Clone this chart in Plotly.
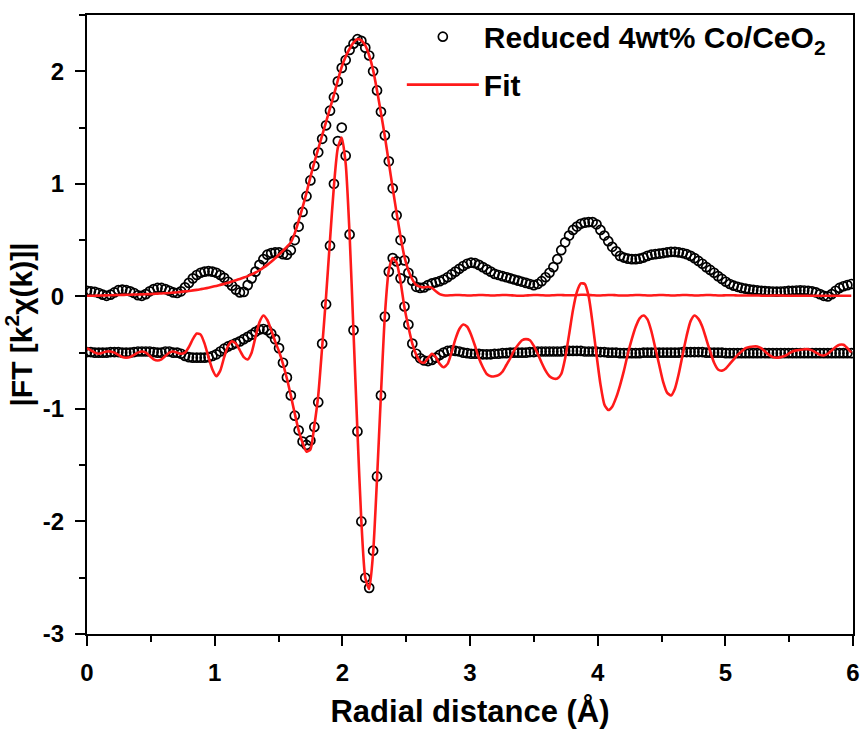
import plotly.graph_objects as go

R_STEP = 0.0307
N_PTS = 196
R = [round(i * R_STEP, 4) for i in range(N_PTS)]

X_TICKS = [0, 1, 2, 3, 4, 5, 6]
X_TICK_LABELS = ["0", "1", "2", "3", "4", "5", "6"]
Y_TICKS = [-3, -2, -1, 0, 1, 2]
Y_TICK_LABELS = ["-3", "-2", "-1", "0", "1", "2"]

# |FT| magnitude of the data
MAG_DATA = [
    0.050, 0.045, 0.040, 0.030, 0.015, 0.005, 0.015, 0.035, 0.055, 0.060,
    0.055, 0.045, 0.030, 0.010, 0.005, 0.020, 0.045, 0.065, 0.075, 0.075,
    0.065, 0.050, 0.035, 0.030, 0.045, 0.080, 0.120, 0.160, 0.190, 0.210,
    0.220, 0.225, 0.220, 0.210, 0.190, 0.165, 0.130, 0.095, 0.060, 0.035,
    0.040, 0.100, 0.160, 0.220, 0.280, 0.330, 0.370, 0.385, 0.390, 0.390,
    0.375, 0.370, 0.410, 0.500, 0.620, 0.750, 0.890, 1.030, 1.160, 1.280,
    1.400, 1.520, 1.650, 1.770, 1.910, 2.030, 2.100, 2.190, 2.245, 2.285,
    2.270, 2.210, 2.140, 2.000, 1.830, 1.640, 1.430, 1.200, 0.960, 0.720,
    0.500, 0.320, 0.210, 0.140, 0.085, 0.075, 0.080, 0.100, 0.115, 0.125,
    0.135, 0.150, 0.170, 0.195, 0.220, 0.245, 0.270, 0.290, 0.300, 0.295,
    0.280, 0.260, 0.240, 0.220, 0.200, 0.190, 0.180, 0.170, 0.160, 0.150,
    0.140, 0.130, 0.120, 0.110, 0.100, 0.110, 0.135, 0.170, 0.210, 0.260,
    0.330, 0.410, 0.480, 0.540, 0.590, 0.620, 0.645, 0.655, 0.660, 0.660,
    0.640, 0.590, 0.540, 0.490, 0.440, 0.400, 0.360, 0.345, 0.335, 0.330,
    0.330, 0.335, 0.345, 0.360, 0.370, 0.375, 0.380, 0.385, 0.390, 0.395,
    0.395, 0.390, 0.385, 0.375, 0.360, 0.340, 0.315, 0.290, 0.260, 0.235,
    0.210, 0.180, 0.155, 0.130, 0.110, 0.095, 0.085, 0.075, 0.068, 0.062,
    0.057, 0.053, 0.050, 0.047, 0.045, 0.043, 0.042, 0.043, 0.045, 0.048,
    0.050, 0.052, 0.053, 0.052, 0.050, 0.045, 0.035, 0.020, 0.005, 0.000,
    0.020, 0.050, 0.075, 0.090, 0.100, 0.110,
]

# Imaginary part of the data (shifted by -0.5)
IM_DATA = [
    -0.495, -0.495, -0.500, -0.500, -0.500, -0.500, -0.495, -0.495, -0.495, -0.500,
    -0.500, -0.500, -0.495, -0.490, -0.490, -0.490, -0.490, -0.495, -0.500, -0.500,
    -0.490, -0.490, -0.500, -0.500, -0.510, -0.530, -0.540, -0.545, -0.545, -0.545,
    -0.545, -0.540, -0.530, -0.515, -0.490, -0.465, -0.445, -0.430, -0.415, -0.400,
    -0.380, -0.360, -0.340, -0.315, -0.295, -0.290, -0.300, -0.330, -0.380, -0.460,
    -0.590, -0.720, -0.880, -1.060, -1.190, -1.290, -1.320, -1.280, -1.160, -0.940,
    -0.420, -0.070, 0.450, 1.000, 1.380, 1.500, 1.250, 0.550, -0.300, -1.200,
    -2.000, -2.500, -2.590, -2.260, -1.600, -0.880, -0.180, 0.220, 0.340, 0.310,
    0.160, -0.090, -0.250, -0.420, -0.510, -0.550, -0.570, -0.575, -0.565, -0.545,
    -0.520, -0.500, -0.485, -0.480, -0.485, -0.490, -0.500, -0.505, -0.510, -0.510,
    -0.510, -0.515, -0.515, -0.515, -0.510, -0.510, -0.505, -0.505, -0.500, -0.500,
    -0.500, -0.500, -0.500, -0.495, -0.495, -0.490, -0.490, -0.490, -0.490, -0.490,
    -0.490, -0.490, -0.485, -0.485, -0.485, -0.485, -0.485, -0.490, -0.490, -0.490,
    -0.490, -0.495, -0.495, -0.500, -0.500, -0.500, -0.505, -0.505, -0.505, -0.505,
    -0.505, -0.505, -0.500, -0.500, -0.500, -0.500, -0.500, -0.500, -0.500, -0.500,
    -0.500, -0.500, -0.495, -0.495, -0.495, -0.495, -0.495, -0.495, -0.500, -0.500,
    -0.500, -0.500, -0.500, -0.505, -0.505, -0.505, -0.505, -0.505, -0.505, -0.505,
    -0.505, -0.505, -0.505, -0.505, -0.505, -0.505, -0.505, -0.505, -0.505, -0.505,
    -0.505, -0.505, -0.505, -0.505, -0.505, -0.505, -0.505, -0.505, -0.505, -0.505,
    -0.505, -0.505, -0.505, -0.505, -0.505, -0.505,
]

# Fit: magnitude
MAG_FIT = [
    0.005, 0.005, 0.006, 0.007, 0.008, 0.009, 0.010, 0.011, 0.012, 0.013,
    0.014, 0.015, 0.016, 0.017, 0.018, 0.019, 0.020, 0.022, 0.024, 0.026,
    0.028, 0.030, 0.033, 0.036, 0.040, 0.044, 0.048, 0.053, 0.058, 0.064,
    0.070, 0.077, 0.085, 0.093, 0.102, 0.111, 0.121, 0.132, 0.143, 0.155,
    0.167, 0.180, 0.195, 0.212, 0.232, 0.255, 0.280, 0.308, 0.338, 0.372,
    0.405, 0.440, 0.480, 0.560, 0.670, 0.790, 0.920, 1.060, 1.190, 1.310,
    1.430, 1.550, 1.670, 1.790, 1.920, 2.040, 2.130, 2.200, 2.255, 2.285,
    2.275, 2.230, 2.140, 2.010, 1.830, 1.630, 1.420, 1.190, 0.960, 0.740,
    0.530, 0.350, 0.230, 0.150, 0.100, 0.085, 0.080, 0.085, 0.075, 0.045,
    0.020, 0.010, 0.008, 0.010, 0.012, 0.012, 0.010, 0.008, 0.008, 0.010,
    0.012, 0.012, 0.010, 0.008, 0.008, 0.010, 0.012, 0.012, 0.010, 0.008,
    0.006, 0.006, 0.008, 0.010, 0.012, 0.012, 0.010, 0.008, 0.008, 0.010,
    0.012, 0.012, 0.010, 0.010, 0.010, 0.012, 0.014, 0.014, 0.012, 0.010,
    0.008, 0.008, 0.010, 0.012, 0.012, 0.010, 0.008, 0.008, 0.008, 0.010,
    0.012, 0.012, 0.010, 0.008, 0.008, 0.010, 0.012, 0.012, 0.010, 0.008,
    0.008, 0.010, 0.012, 0.012, 0.010, 0.008, 0.008, 0.010, 0.012, 0.012,
    0.010, 0.008, 0.008, 0.010, 0.010, 0.010, 0.008, 0.008, 0.008, 0.008,
    0.008, 0.008, 0.006, 0.006, 0.006, 0.008, 0.008, 0.008, 0.006, 0.006,
    0.006, 0.006, 0.006, 0.006, 0.006, 0.006, 0.006, 0.006, 0.006, 0.006,
    0.006, 0.006, 0.006, 0.006, 0.006, 0.006,
]

# Fit: imaginary part (shifted by -0.5)
IM_FIT = [
    -0.460, -0.480, -0.500, -0.510, -0.500, -0.490, -0.490, -0.500, -0.520, -0.540,
    -0.545, -0.540, -0.520, -0.500, -0.490, -0.500, -0.530, -0.560, -0.570, -0.560,
    -0.530, -0.500, -0.490, -0.500, -0.510, -0.500, -0.450, -0.380, -0.330, -0.340,
    -0.420, -0.540, -0.650, -0.710, -0.660, -0.540, -0.440, -0.400, -0.420, -0.480,
    -0.540, -0.560, -0.500, -0.360, -0.230, -0.170, -0.210, -0.300, -0.400, -0.490,
    -0.600, -0.730, -0.880, -1.040, -1.190, -1.300, -1.380, -1.360, -1.150, -0.880,
    -0.450, 0.000, 0.500, 0.980, 1.320, 1.410, 1.180, 0.550, -0.320, -1.200,
    -2.000, -2.500, -2.600, -2.280, -1.620, -0.870, -0.170, 0.230, 0.340, 0.300,
    0.130, -0.100, -0.270, -0.420, -0.520, -0.580, -0.590, -0.550, -0.510, -0.540,
    -0.600, -0.630, -0.600, -0.500, -0.380, -0.290, -0.250, -0.270, -0.340, -0.440,
    -0.550, -0.630, -0.690, -0.710, -0.710, -0.700, -0.670, -0.610, -0.550, -0.480,
    -0.430, -0.390, -0.380, -0.390, -0.440, -0.510, -0.590, -0.660, -0.710, -0.730,
    -0.730, -0.690, -0.550, -0.340, -0.120, 0.040, 0.115, 0.110, 0.000, -0.240,
    -0.520, -0.780, -0.960, -1.010, -0.980, -0.900, -0.790, -0.660, -0.510, -0.380,
    -0.270, -0.195, -0.170, -0.205, -0.310, -0.460, -0.610, -0.760, -0.855, -0.880,
    -0.820, -0.685, -0.515, -0.350, -0.220, -0.170, -0.200, -0.270, -0.380, -0.490,
    -0.590, -0.650, -0.660, -0.640, -0.600, -0.560, -0.520, -0.490, -0.460, -0.450,
    -0.445, -0.445, -0.460, -0.490, -0.520, -0.540, -0.545, -0.540, -0.530, -0.510,
    -0.490, -0.480, -0.475, -0.470, -0.470, -0.480, -0.500, -0.520, -0.525, -0.510,
    -0.480, -0.450, -0.430, -0.430, -0.460, -0.500,
]

DATA_NAME = "Reduced 4wt% Co/CeO<sub>2</sub>"
FIT_NAME = "Fit"

n = min(len(R), len(MAG_DATA), len(IM_DATA), len(MAG_FIT), len(IM_FIT))

marker_style = dict(symbol="circle-open", size=9, color="black", line=dict(width=1.7, color="black"))
fit_line = dict(color="#ff1a1a", width=2.6, shape="spline", smoothing=0.6)

fig = go.Figure()
fig.add_trace(go.Scatter(x=R[:n], y=MAG_DATA[:n], mode="markers", marker=marker_style,
                         name=DATA_NAME, legendgroup="data", showlegend=True))
fig.add_trace(go.Scatter(x=R[:n], y=IM_DATA[:n], mode="markers", marker=marker_style,
                         name=DATA_NAME, legendgroup="data", showlegend=False))
fig.add_trace(go.Scatter(x=R[:n], y=MAG_FIT[:n], mode="lines", line=fit_line,
                         name=FIT_NAME, legendgroup="fit", showlegend=True))
fig.add_trace(go.Scatter(x=R[:n], y=IM_FIT[:n], mode="lines", line=fit_line,
                         name=FIT_NAME, legendgroup="fit", showlegend=False))

FONT = "Liberation Sans, Arial, Helvetica, sans-serif"
axis_common = dict(
    showgrid=False, zeroline=False, showline=True, linecolor="black", linewidth=2,
    mirror=True, ticks="outside", ticklen=10, tickwidth=2, tickcolor="black",
    tickfont=dict(family=FONT, size=24, color="black", weight="bold"),
    ticklabelstandoff=6, automargin=False,
)
minor_common = dict(dtick=0.5, ticks="outside", ticklen=6, tickwidth=2, tickcolor="black", showgrid=False)

fig.update_layout(
    width=863, height=731,
    margin=dict(l=87, r=10, t=15, b=97, autoexpand=False),
    paper_bgcolor="white", plot_bgcolor="white",
    font=dict(family=FONT, color="black"),
    xaxis=dict(range=[0, 6], tickmode="array", tickvals=X_TICKS, ticktext=X_TICK_LABELS,
               minor=minor_common,
               title=dict(text="Radial distance (Å)", font=dict(family=FONT, size=31, weight="bold"), standoff=16),
               **axis_common),
    yaxis=dict(range=[-3, 2.5], tickmode="array", tickvals=Y_TICKS, ticktext=Y_TICK_LABELS,
               minor=minor_common,
               title=dict(text="|FT [k<sup>2</sup>χ(k)]|", font=dict(family=FONT, size=30, weight="bold"), standoff=4),
               **axis_common),
    legend=dict(x=0.411, y=1.007, xanchor="left", yanchor="top",
                font=dict(family=FONT, size=30, color="black", weight="bold"),
                bgcolor="rgba(0,0,0,0)", borderwidth=0, itemwidth=72,
                tracegroupgap=6, traceorder="grouped"),
    showlegend=True,
)

fig.write_html("out.html")
